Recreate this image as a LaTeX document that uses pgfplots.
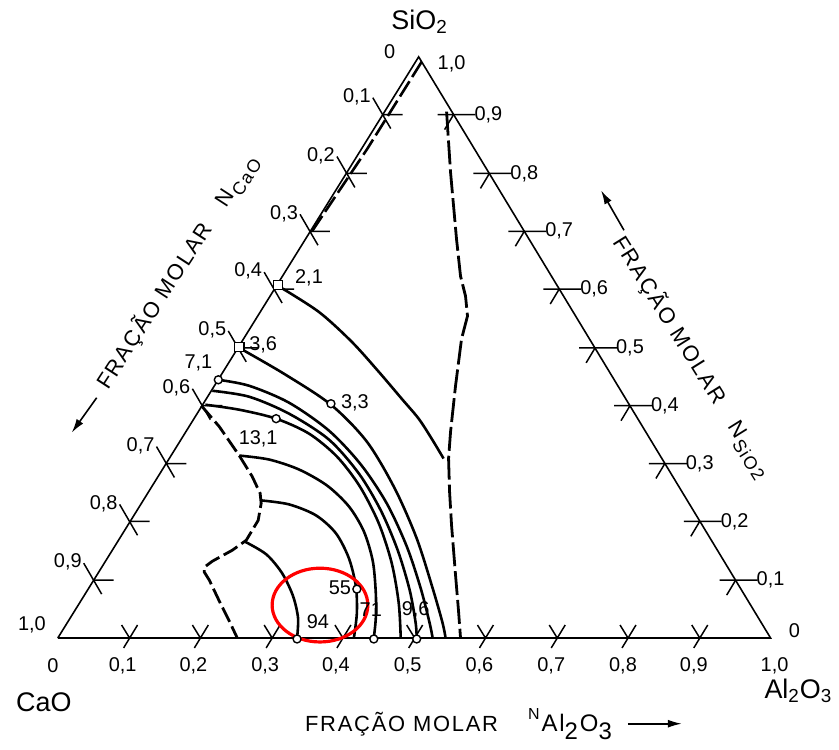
\documentclass[border=0pt]{standalone}
\usepackage{pgfplots}
\pgfplotsset{compat=1.18}
\usetikzlibrary{arrows.meta}
\usepackage{fontspec}
\setmainfont{Liberation Sans}
\newfontfamily\cond[FakeStretch=0.8]{Liberation Sans}
\newfontfamily\spaced[LetterSpace=8]{Liberation Sans}

\begin{document}
\begin{tikzpicture}
\begin{axis}[
  scale only axis, width=419.5pt, height=376pt,
  xmin=0, xmax=839, ymin=0, ymax=752, y dir=reverse,
  hide axis, clip=false, unbounded coords=jump,
  every node/.append style={font=\cond\fontsize{11}{12}\selectfont, inner sep=0pt},
]
\path (axis cs:0,0) rectangle (axis cs:839,752);

% triangle
\addplot[black, line width=0.8pt] coordinates {(58,640) (773,640) (420,57) (58,640)};

% ticks
\addplot[black, line width=0.75pt] coordinates {
(384,115) (404,115) (nan,nan) (374,98) (392,129) (nan,nan)
(348,174) (368,174) (nan,nan) (338,157) (356,188) (nan,nan)
(311,232) (331,232) (nan,nan) (301,215) (319,246) (nan,nan)
(275,290) (295,290) (nan,nan) (265,273) (283,304) (nan,nan)
(239,349) (259,349) (nan,nan) (229,332) (247,363) (nan,nan)
(203,407) (223,407) (nan,nan) (193,390) (211,421) (nan,nan)
(167,465) (187,465) (nan,nan) (157,448) (175,479) (nan,nan)
(130,523) (150,523) (nan,nan) (120,506) (138,537) (nan,nan)
(94,582) (114,582) (nan,nan) (84,565) (102,596) (nan,nan)
(439,115) (477,115) (nan,nan) (455,115) (446,130) (nan,nan)
(475,174) (513,174) (nan,nan) (491,174) (482,189) (nan,nan)
(510,232) (548,232) (nan,nan) (526,232) (517,247) (nan,nan)
(545,290) (583,290) (nan,nan) (561,290) (552,305) (nan,nan)
(581,349) (619,349) (nan,nan) (597,349) (588,364) (nan,nan)
(616,407) (654,407) (nan,nan) (632,407) (623,422) (nan,nan)
(651,465) (689,465) (nan,nan) (667,465) (658,480) (nan,nan)
(686,523) (724,523) (nan,nan) (702,523) (693,538) (nan,nan)
(722,582) (760,582) (nan,nan) (738,582) (729,597) (nan,nan)
(124,650) (138,627) (nan,nan) (130,640) (122,627) (nan,nan)
(195,650) (209,627) (nan,nan) (201,640) (193,627) (nan,nan)
(267,650) (281,627) (nan,nan) (273,640) (265,627) (nan,nan)
(338,650) (352,627) (nan,nan) (344,640) (336,627) (nan,nan)
(410,650) (424,627) (nan,nan) (416,640) (408,627) (nan,nan)
(481,650) (495,627) (nan,nan) (487,640) (479,627) (nan,nan)
(553,650) (567,627) (nan,nan) (559,640) (551,627) (nan,nan)
(624,650) (638,627) (nan,nan) (630,640) (622,627) (nan,nan)
(696,650) (710,627) (nan,nan) (702,640) (694,627)
};

% dashed boundaries
\addplot[black, line width=1.4pt, dash pattern=on 12pt off 2.5pt] coordinates {
(448,112) (452,173) (458,240) (462,277) (467,297) (469,317) (463,340) (457,387) (452,433) (450,460) (451,493) (453,527) (457,577) (460,613) (462,640)};
\addplot[black, line width=1.3pt, dash pattern=on 9pt off 2.5pt] coordinates {
(423,62) (368,150) (313,232)};
\addplot[black, line width=1.4pt, dash pattern=on 8pt off 2.5pt] coordinates {
(202,407) (220,428) (240,457) (253,478) (261,495) (262,505) (259,522) (250,537) (247,542) (233,552) (213,563) (205,569) (205,574) (210,582) (220,603) (230,623) (238,640)};

% solid iso-lines
\addplot[black, line width=1.3pt, smooth] coordinates {
(281,288) (320,313) (353,343) (380,373) (403,400) (420,420) (433,440) (445,460)};
\addplot[black, line width=1.3pt, smooth] coordinates {
(240,349) (285,375) (332,406) (368,443) (396,490) (418,540) (434,590) (444,625) (447,640)};
\addplot[black, line width=1.3pt, smooth] coordinates {
(219,381) (250,387) (290,404) (330,432) (362,466) (388,505) (408,548) (422,590) (431,625) (434,640)};
\addplot[black, line width=1.3pt, smooth] coordinates {
(213,392) (250,398) (290,415) (330,441) (360,475) (382,512) (399,552) (411,592) (417,625) (418,640)};
\addplot[black, line width=1.3pt, smooth] coordinates {
(206,406) (240,411) (277,420) (310,435) (338,458) (361,488) (380,525) (393,565) (400,605) (402,640)};
\addplot[black, line width=1.3pt, smooth] coordinates {
(240,457) (270,461) (300,471) (328,487) (350,508) (365,533) (374,563) (377,595) (377,620) (375,640)};
\addplot[black, line width=1.3pt, smooth] coordinates {
(262,502) (290,506) (317,517) (337,535) (350,560) (357,588) (358,615) (355,640)};
\addplot[black, line width=1.3pt, smooth] coordinates {
(245,543) (267,556) (283,575) (294,598) (299,620) (298,640)};

% markers
\addplot[only marks, mark=square*, mark size=2.3pt, mark options={fill=white, draw=black, line width=0.7pt}] coordinates {(279,286) (240,348)};
\addplot[only marks, mark=*, mark size=2pt, mark options={fill=white, draw=black, line width=0.7pt}] coordinates {
(219,381) (332,405) (277,420) (358,591) (298,641) (375,641) (418,641)};

% red ellipse
\draw[red, line width=1.6pt] (axis cs:321,607) ellipse [x radius=24pt, y radius=18.5pt];

% point labels
\node at (axis cs:310,279) {2,1};
\node at (axis cs:264,346) {3,6};
\node at (axis cs:199,364) {7,1};
\node at (axis cs:356,404) {3,3};
\node at (axis cs:259,440) {13,1};
\node at (axis cs:341,590) {55};
\node at (axis cs:319,624) {94};
\node at (axis cs:372,612) {71};
\node at (axis cs:417,612) {9,6};

% left tick labels
\node at (axis cs:391,52) {0};
\node at (axis cs:358,97) {0,1};
\node at (axis cs:322,156) {0,2};
\node at (axis cs:285,214) {0,3};
\node at (axis cs:249,272) {0,4};
\node at (axis cs:213,331) {0,5};
\node at (axis cs:177,389) {0,6};
\node at (axis cs:141,447) {0,7};
\node at (axis cs:104,505) {0,8};
\node at (axis cs:68,564) {0,9};
\node at (axis cs:32,627) {1,0};
% bottom tick labels
\node at (axis cs:53,668) {0};
\node at (axis cs:123,668) {0,1};
\node at (axis cs:194,668) {0,2};
\node at (axis cs:266,668) {0,3};
\node at (axis cs:337,668) {0,4};
\node at (axis cs:409,668) {0,5};
\node at (axis cs:481,668) {0,6};
\node at (axis cs:553,668) {0,7};
\node at (axis cs:625,668) {0,8};
\node at (axis cs:696,668) {0,9};
\node at (axis cs:777,668) {1,0};
% right tick labels
\node at (axis cs:453,64) {1,0};
\node at (axis cs:490,115) {0,9};
\node at (axis cs:526,174) {0,8};
\node at (axis cs:561,232) {0,7};
\node at (axis cs:596,290) {0,6};
\node at (axis cs:632,349) {0,5};
\node at (axis cs:667,407) {0,4};
\node at (axis cs:702,465) {0,3};
\node at (axis cs:737,523) {0,2};
\node at (axis cs:773,582) {0,1};
\node at (axis cs:797,633) {0};

% vertex labels
\node[font=\fontsize{13.5}{14}\selectfont] at (axis cs:421,22) {SiO\textsubscript{2}};
\node[font=\fontsize{13.5}{14}\selectfont] at (axis cs:44,704) {CaO};
\node[font=\fontsize{13.5}{14}\selectfont] at (axis cs:801,693) {Al\textsubscript{2}O\textsubscript{3}};

% axis titles
\node[font=\spaced\fontsize{11}{11}\selectfont, anchor=west] at (axis cs:299,726)
  {FRAÇÃO MOLAR\hspace{15pt}\raisebox{6pt}{\fontsize{8}{8}\selectfont N}\hspace{1pt}{\fontsize{12}{12}\selectfont Al\raisebox{-4pt}{2}\hspace{1pt}O\raisebox{-4pt}{3}}};
\draw[-{Latex[length=7pt,width=4pt]}, line width=0.8pt] (axis cs:630,726) -- (axis cs:684,726);

\node[font=\spaced\fontsize{11}{11}\selectfont, rotate=57] at (axis cs:178,273)
  {FRAÇÃO MOLAR\hspace{12pt}N\hspace{1pt}\raisebox{-3pt}{\fontsize{9}{9}\selectfont CaO}};
\draw[-{Latex[length=7pt,width=4pt]}, line width=0.8pt] (axis cs:97,399) -- (axis cs:72,434);

\node[font=\spaced\fontsize{11}{11}\selectfont, rotate=-58] at (axis cs:694,358)
  {FRAÇÃO MOLAR\hspace{12pt}N\hspace{1pt}\raisebox{-3pt}{\fontsize{9}{9}\selectfont SiO2}};
\draw[-{Latex[length=7pt,width=4pt]}, line width=0.8pt] (axis cs:626,231) -- (axis cs:603,191);

\end{axis}
\end{tikzpicture}
\end{document}
